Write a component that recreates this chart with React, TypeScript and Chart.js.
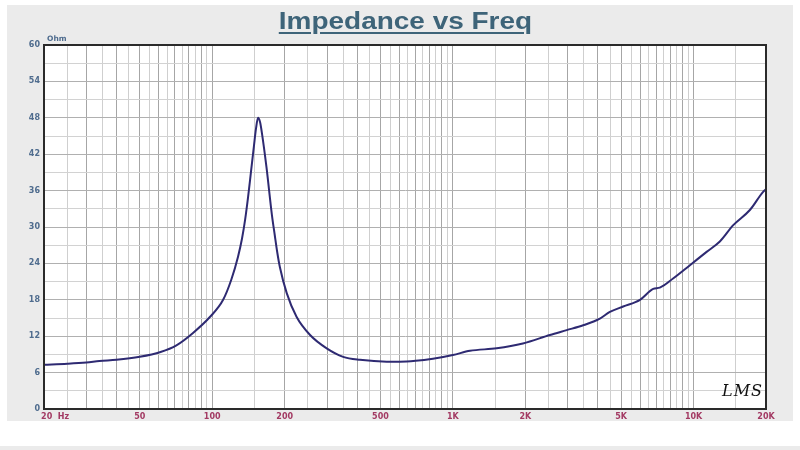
import React, { useEffect, useRef } from "react";
import { Chart, registerables } from "chart.js";

Chart.register(...registerables);

// Frequency (Hz) and impedance (Ohm)
const freqs = [20, 25, 30, 34, 40, 50, 61, 71, 83, 98, 111, 120, 128, 133, 137, 141, 145, 149, 152, 155, 158, 161, 168, 177, 182, 186, 191, 204, 224, 255, 299, 350, 411, 531, 602, 700, 826, 1000, 1178, 1520, 1954, 2530, 2970, 3480, 4080, 4490, 5100, 5990, 6800, 7240, 8220, 9660, 11330, 12860, 14620, 17140, 19460, 20000];
const impedance = [7.3, 7.45, 7.65, 7.9, 8.1, 8.6, 9.4, 10.5, 12.5, 15.2, 18.0, 21.3, 25.1, 28.1, 31.2, 35.0, 39.2, 43.3, 46.2, 48.0, 47.3, 45.4, 39.9, 32.0, 28.6, 26.0, 23.4, 19.1, 15.2, 12.2, 10.0, 8.6, 8.1, 7.8, 7.8, 7.95, 8.3, 8.9, 9.6, 10.0, 10.8, 12.2, 13.0, 13.8, 14.9, 16.0, 16.9, 18.0, 19.8, 20.0, 21.5, 23.7, 25.9, 27.6, 30.3, 32.8, 35.8, 36.2];

// Vertical grid lines (Hz)
const xGrid = [20, 25, 30, 35, 40, 45, 50, 55, 60, 65, 70, 75, 80, 85, 90, 95, 100,
  150, 200, 250, 300, 350, 400, 450, 500, 550, 600, 650, 700, 750, 800, 850, 900, 950, 1000,
  1500, 2000, 2500, 3000, 3500, 4000, 4500, 5000, 5500, 6000, 6500, 7000, 7500, 8000, 8500, 9000, 9500, 10000,
  15000, 20000];
const xLabelValues = [20, 50, 100, 200, 500, 1000, 2000, 5000, 10000, 20000];
const xLabelTexts = ["        20  Hz", "50", "100", "200", "500", "1K", "2K", "5K", "10K", "20K"];

const yMin = 0;
const yMax = 60;
const yStep = 3;
const yLabelEvery = 6;

const isMajorX = (v: number) => {
  const p = Math.pow(10, Math.floor(Math.log10(v) + 1e-9));
  return Math.abs(v / p - Math.round(v / p)) < 1e-6;
};

const framePlugin = {
  id: "frame",
  beforeDraw(chart: any) {
    const { ctx, chartArea } = chart;
    ctx.save();
    ctx.fillStyle = "#ffffff";
    ctx.fillRect(chartArea.left, chartArea.top, chartArea.right - chartArea.left, chartArea.bottom - chartArea.top);
    ctx.restore();
  },
  afterDraw(chart: any) {
    const { ctx, chartArea } = chart;
    ctx.save();
    ctx.strokeStyle = "#2a2a2a";
    ctx.lineWidth = 2;
    ctx.strokeRect(chartArea.left, chartArea.top, chartArea.right - chartArea.left, chartArea.bottom - chartArea.top);
    ctx.restore();
  },
};

export default function App() {
  const ref = useRef<HTMLCanvasElement | null>(null);

  useEffect(() => {
    if (!ref.current) return;
    const chart = new Chart(ref.current, {
      type: "line",
      data: {
        datasets: [
          {
            data: freqs.map((f, i) => ({ x: f, y: impedance[i] })),
            borderColor: "#2e2a72",
            borderWidth: 2,
            pointRadius: 0,
            fill: false,
            cubicInterpolationMode: "monotone",
          },
        ],
      },
      options: {
        responsive: false,
        animation: false,
        devicePixelRatio: 1,
        layout: { padding: { top: 45, left: 0, right: 34, bottom: 0 } },
        plugins: { legend: { display: false }, tooltip: { enabled: false }, title: { display: false } },
        scales: {
          x: {
            type: "logarithmic",
            min: 20,
            max: 20000,
            afterBuildTicks: (scale: any) => {
              scale.ticks = xGrid.map((v) => ({ value: v }));
            },
            afterFit: (scale: any) => {
              scale.height = 41;
            },
            ticks: {
              autoSkip: false,
              maxRotation: 0,
              minRotation: 0,
              padding: 3,
              color: "#a33a63",
              font: { family: "DejaVu Sans", size: 8, weight: "bold" },
              callback: (value: any) => {
                const idx = xLabelValues.indexOf(Number(value));
                return idx >= 0 ? xLabelTexts[idx] : "";
              },
            },
            grid: {
              drawTicks: false,
              color: (ctx: any) => (ctx.tick && isMajorX(ctx.tick.value) ? "#a6a6a6" : "#cfcfcf"),
              lineWidth: 1,
            },
            border: { display: true, color: "#2a2a2a", width: 2 },
          },
          y: {
            type: "linear",
            min: yMin,
            max: yMax,
            afterFit: (scale: any) => {
              scale.width = 44;
            },
            ticks: {
              stepSize: yStep,
              autoSkip: false,
              padding: 4,
              color: "#4f6c8e",
              font: { family: "DejaVu Sans", size: 8, weight: "bold" },
              callback: (value: any) => (Number(value) % yLabelEvery === 0 ? String(value) : ""),
            },
            grid: {
              drawTicks: false,
              color: (ctx: any) => (ctx.tick && ctx.tick.value % yLabelEvery === 0 ? "#b0b0b0" : "#d2d2d2"),
              lineWidth: 1,
            },
            border: { display: true, color: "#2a2a2a", width: 2 },
          },
        },
      } as any,
      plugins: [framePlugin],
    });
    return () => chart.destroy();
  }, []);

  return (
    <div style={{ position: "fixed", left: 0, top: 0, width: 800, height: 450, background: "#ffffff", overflow: "hidden" }}>
      <div style={{ position: "absolute", left: 7, top: 5, width: 786, height: 416, background: "#ebebeb" }} />
      <div style={{ position: "absolute", left: 0, top: 446, width: 800, height: 4, background: "#ebebeb" }} />
      <canvas ref={ref} width={800} height={450} style={{ position: "absolute", left: 0, top: 0, width: 800, height: 450 }} />
      <div
        style={{
          position: "absolute",
          left: 0,
          top: 10,
          width: 810,
          textAlign: "center",
          fontFamily: "'Liberation Sans', Arial, sans-serif",
          fontWeight: "bold",
          fontSize: 23.5,
          lineHeight: "23.5px",
          color: "#3e6479",
        }}
      >
        <span
          style={{
            display: "inline-block",
            transform: "scaleX(1.19)",
            textDecoration: "underline",
            textDecorationThickness: "2px",
            textUnderlineOffset: "3px",
          }}
        >
          Impedance vs Freq
        </span>
      </div>
      <div
        style={{
          position: "absolute",
          left: 47,
          top: 34,
          fontFamily: "'DejaVu Sans', sans-serif",
          fontWeight: "bold",
          fontSize: 7.5,
          color: "#4f6c8e",
        }}
      >
        Ohm
      </div>
      <div
        style={{
          position: "absolute",
          left: 722,
          top: 381,
          fontFamily: "'DejaVu Serif', serif",
          fontStyle: "italic",
          fontSize: 16,
          letterSpacing: 1,
          color: "#111111",
        }}
      >
        LMS
      </div>
    </div>
  );
}
